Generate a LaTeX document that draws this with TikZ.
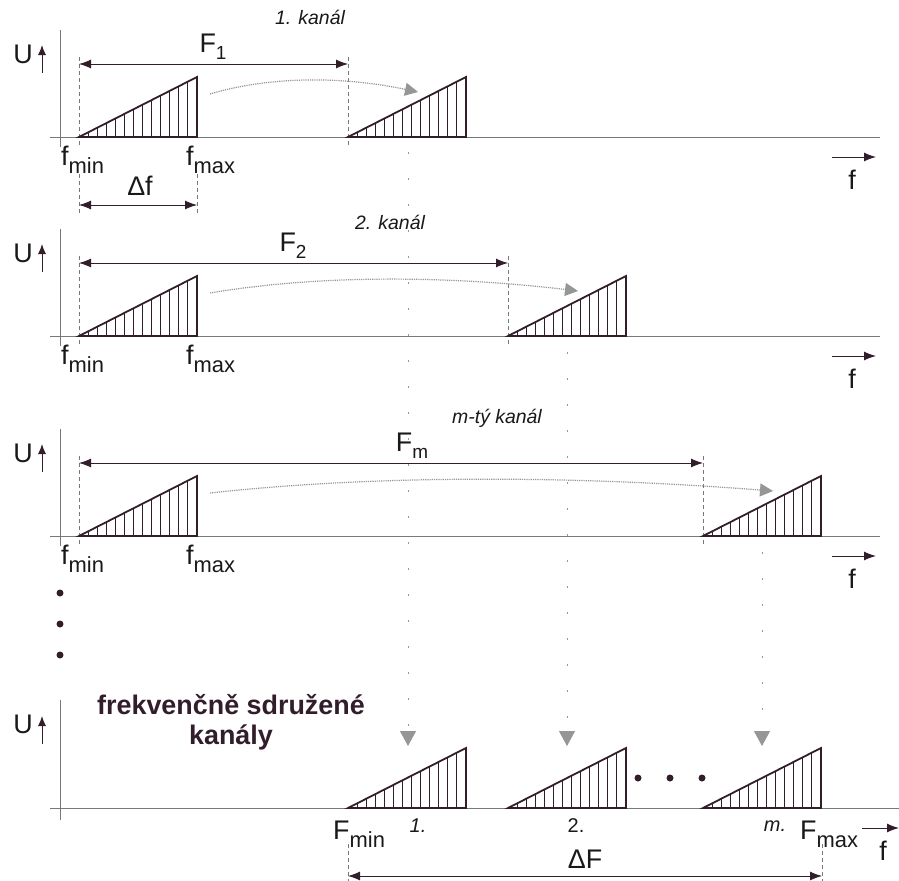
\documentclass[tikz,border=0pt]{standalone}
\usepackage{fontspec}
\setmainfont{Liberation Sans}
\usetikzlibrary{arrows.meta,calc}
\definecolor{ink}{RGB}{50,30,42}
\definecolor{axisgray}{RGB}{120,120,120}
\definecolor{dotgray}{RGB}{150,150,150}
\newcommand\subl[2]{#1\raisebox{-8bp}{\fontsize{22}{24}\selectfont #2}}
\newcommand\subF[2]{#1\raisebox{-7bp}{\fontsize{19}{20}\selectfont #2}}
\tikzset{
  axisline/.style={axisgray, line width=0.8bp},
  dashline/.style={axisgray, line width=0.7bp, dash pattern=on 4bp off 3bp},
  trioutline/.style={ink, line width=1.8bp, line join=miter},
  hatchline/.style={ink, line width=0.6bp},
  dimarrow/.style={ink, line width=0.9bp, {Latex[length=12bp,width=9bp]}-{Latex[length=12bp,width=9bp]}},
  uparrow/.style={ink, line width=1bp, -{Latex[length=10bp,width=8bp]}},
  farrow/.style={ink, line width=1bp, -{Latex[length=12bp,width=9bp]}},
  shiftarrow/.style={dotgray, line width=1.2bp, dash pattern=on 1.2bp off 1bp, -{Triangle[length=13bp,width=13bp,fill=dotgray,color=dotgray]}},
  droparrow/.style={dotgray, line width=1bp, dash pattern=on 2bp off 24bp, -{Triangle[length=15bp,width=16bp,fill=dotgray,color=dotgray]}},
  lab/.style={font=\fontsize{27}{29}\selectfont, text=black!90, inner sep=0pt},
  title/.style={font=\fontsize{19.5}{21}\selectfont\itshape, text=black!90, inner sep=0pt},
  num/.style={font=\fontsize{20}{22}\selectfont, text=black!90, inner sep=0pt},
  bigtxt/.style={font=\fontsize{27}{30}\selectfont\bfseries, text=ink, align=center, inner sep=0pt},
  dotnode/.style={circle, fill=ink, inner sep=0pt, minimum size=7bp}
}
\newcommand\tri[3]{% #1 name prefix, #2 x start, #3 baseline
  \foreach \k in {1,...,12}{
    \draw[hatchline] ({#2+9*\k},#3) -- ({#2+9*\k},{#3-60*9*\k/118});
  }
  \draw[trioutline] (#2,#3) coordinate (#1a) -- ({#2+118},{#3-60}) coordinate (#1b) -- ({#2+118},#3) coordinate (#1c) -- cycle;
}
\begin{document}
\begin{tikzpicture}[x=1bp,y=-1bp]
\useasboundingbox (0,0) rectangle (899,881);
\fill[white] (0,0) rectangle (899,881);

% ---------- three channel panels ----------
\foreach \b/\s/\fs/\ttl/\tx/\ty/\fx/\p in {137/348/1/{1. kanál}/310/17/213/pa, 336/508/2/{2. kanál}/390/222/293/pb, 536/703/m/{m-tý kanál}/497/418/412/pc}{
  % axes
  \coordinate (\p vt) at (60,\b-107);
  \coordinate (\p vb) at (60,\b+10);
  \draw[axisline] (\p vt) -- (\p vb);
  \coordinate (\p hl) at (50,\b);
  \coordinate (\p hr) at (880,\b);
  \draw[axisline] (\p hl) -- (\p hr);
  \node[lab] (\p U) at (23,\b-83) {U};
  \coordinate (\p ua) at (42,\b-64);
  \coordinate (\p ub) at (42,\b-92);
  \draw[uparrow] (\p ua) -- (\p ub);
  % f axis arrow
  \coordinate (\p fa) at (832,\b+20);
  \coordinate (\p fb) at (876,\b+20);
  \draw[farrow] (\p fa) -- (\p fb);
  \node[lab] (\p f) at (852,\b+43) {f};
  % dashed guides
  \coordinate (\p d1t) at (79,\b-80);
  \coordinate (\p d1b) at (79,\b+10);
  \draw[dashline] (\p d1t) -- (\p d1b);
  \coordinate (\p d2t) at (\s,\b-80);
  \coordinate (\p d2b) at (\s,\b+10);
  \draw[dashline] (\p d2t) -- (\p d2b);
  % triangles
  \tri{\p L}{79}{\b}
  \tri{\p R}{\s}{\b}
  % F arrow
  \coordinate (\p Fa) at (79,\b-73);
  \coordinate (\p Fb) at (\s,\b-73);
  \draw[dimarrow] (\p Fa) -- (\p Fb);
  \node[lab] (\p F) at (\fx,\b-90) {\subF{F}{\fs}};
  \node[title] (\p T) at (\tx,\ty) {\ttl};
  % labels
  \node[lab, anchor=base west] (\p fmin) at (61,\b+28) {\subl{f}{min}};
  \node[lab, anchor=base west] (\p fmax) at (186,\b+28) {\subl{f}{max}};
  % shifting arrow
  \coordinate (\p sa) at (210,\b-43);
  \coordinate (\p sb) at (\s+70,\b-45);
  \draw[shiftarrow] (\p sa) .. controls ($(\p sa)!0.3!(\p sb)+(0,-18)$) and ($(\p sa)!0.65!(\p sb)+(0,-16)$) .. (\p sb);
}

% delta f in panel 1
\coordinate (dfa1) at (79,174);
\coordinate (dfa2) at (79,213);
\coordinate (dfb1) at (197,174);
\coordinate (dfb2) at (197,213);
\draw[dashline] (dfa1) -- (dfa2);
\draw[dashline] (dfb1) -- (dfb2);
\coordinate (dfl) at (79,205);
\coordinate (dfr) at (197,205);
\draw[dimarrow] (dfl) -- (dfr);
\node[lab] (df) at (140,186) {Δf};

% vertical dots between panels
\node[dotnode] (v1) at (60,593) {};
\node[dotnode] (v2) at (60,624) {};
\node[dotnode] (v3) at (60,655) {};

% ---------- combined panel ----------
\def\bb{808}
\coordinate (qvt) at (60,700);
\coordinate (qvb) at (60,820);
\draw[axisline] (qvt) -- (qvb);
\coordinate (qhl) at (50,\bb);
\coordinate (qhr) at (899,\bb);
\draw[axisline] (qhl) -- (qhr);
\node[lab] (qU) at (23,724) {U};
\coordinate (qua) at (42,744);
\coordinate (qub) at (42,716);
\draw[uparrow] (qua) -- (qub);
\node[bigtxt] (qtxt) at (231,722) {frekvenčně sdružené\\kanály};

\tri{qA}{348}{\bb}
\tri{qB}{508}{\bb}
\tri{qC}{703}{\bb}

\node[dotnode] (e1) at (638,778) {};
\node[dotnode] (e2) at (670,778) {};
\node[dotnode] (e3) at (702,778) {};

% drop arrows
\coordinate (k1t) at (408,152);
\coordinate (k1b) at (408,746);
\draw[droparrow] (k1t) -- (k1b);
\coordinate (k2t) at (567,352);
\coordinate (k2b) at (567,746);
\draw[droparrow] (k2t) -- (k2b);
\coordinate (k3t) at (762,552);
\coordinate (k3b) at (762,746);
\draw[droparrow] (k3t) -- (k3b);

% bottom labels
\node[lab, anchor=base west] (Fmin) at (333,839) {\subl{F}{min}};
\node[num, font=\fontsize{20}{22}\selectfont\itshape] (n1) at (418,826) {1.};
\node[num] (n2) at (576,826) {2.};
\node[num, font=\fontsize{20}{22}\selectfont\itshape] (nm) at (775,826) {m.};
\node[lab, anchor=base west] (Fmax) at (800,839) {\subl{F}{max}};
\coordinate (qfa) at (862,828);
\coordinate (qfb) at (899,828);
\draw[farrow] (qfa) -- (qfb);
\node[lab] (qf) at (883,851) {f};

\coordinate (DFa1) at (348,844);
\coordinate (DFa2) at (348,881);
\coordinate (DFb1) at (822,844);
\coordinate (DFb2) at (822,881);
\draw[dashline] (DFa1) -- (DFa2);
\draw[dashline] (DFb1) -- (DFb2);
\coordinate (DFl) at (348,876);
\coordinate (DFr) at (822,876);
\draw[dimarrow] (DFl) -- (DFr);
\node[lab] (DF) at (585,859) {ΔF};
\end{tikzpicture}
\end{document}
